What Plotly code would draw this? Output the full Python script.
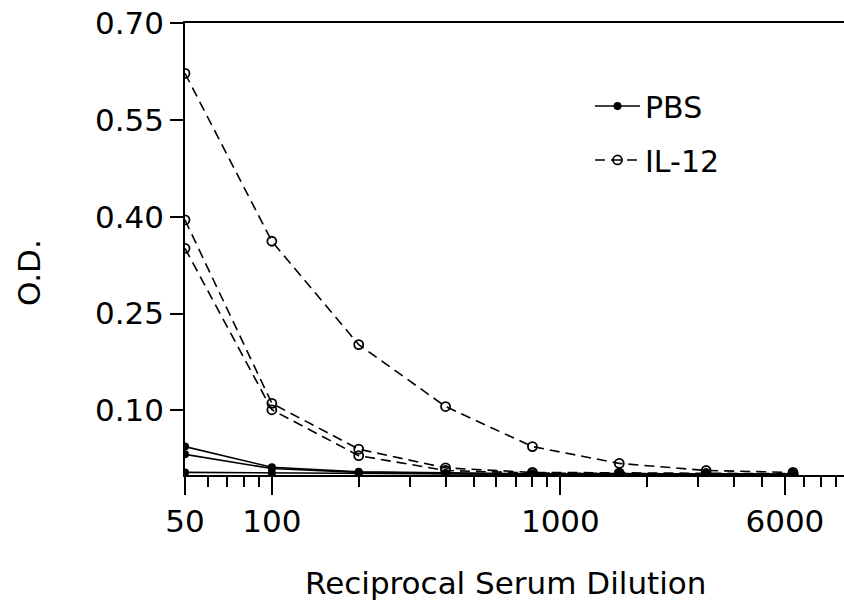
import plotly.graph_objects as go
import math

dilutions = [50, 100, 200, 400, 800, 1600, 3200, 6400]

il12_a = [0.622, 0.362, 0.202, 0.106, 0.044, 0.018, 0.007, 0.004]
il12_b = [0.395, 0.111, 0.040, 0.011, 0.004, 0.003, 0.002, 0.002]
il12_c = [0.351, 0.101, 0.030, 0.007, 0.003, 0.002, 0.002, 0.001]

pbs_a = [0.044, 0.012, 0.005, 0.003, 0.002, 0.002, 0.002, 0.001]
pbs_b = [0.032, 0.010, 0.004, 0.002, 0.001, 0.001, 0.001, 0.001]
pbs_c = [0.004, 0.003, 0.002, 0.001, 0.001, 0.001, 0.001, 0.001]

x_labels = [50, 100, 1000, 6000]
x_minor = [60, 70, 80, 90, 200, 300, 400, 500, 600, 700, 800, 900,
           2000, 3000, 4000, 5000, 7000, 8000, 9000]
y_ticks = [0.10, 0.25, 0.40, 0.55, 0.70]

FONT = "DejaVu Sans"
fig = go.Figure()

for i, ys in enumerate([pbs_a, pbs_b, pbs_c]):
    fig.add_trace(go.Scatter(
        x=dilutions, y=ys, mode="lines+markers", name="PBS",
        legendgroup="pbs", showlegend=(i == 0),
        line=dict(color="black", width=1.6),
        marker=dict(symbol="circle", size=8, color="black"),
    ))

for i, ys in enumerate([il12_a, il12_b, il12_c]):
    fig.add_trace(go.Scatter(
        x=dilutions, y=ys, mode="lines+markers", name="IL-12",
        legendgroup="il12", showlegend=(i == 0),
        line=dict(color="black", width=1.6, dash="10px,6px"),
        marker=dict(symbol="circle-open", size=9, color="black",
                    line=dict(width=1.8, color="black")),
    ))

x0 = math.log10(50)
fig.update_xaxes(
    type="log", range=[x0, 3.983],
    showline=True, linecolor="black", linewidth=1.5, mirror=True,
    showgrid=False, zeroline=False,
    tickmode="array", tickvals=x_labels, ticktext=[str(v) for v in x_labels],
    ticks="outside", ticklen=18, tickwidth=1.5, tickcolor="black",
    tickfont=dict(family=FONT, size=31, color="black"),
    minor=dict(tickvals=x_minor, ticks="outside", ticklen=10,
               tickwidth=1.5, tickcolor="black", showgrid=False),
)
fig.update_yaxes(
    range=[0, 0.70],
    showline=True, linecolor="black", linewidth=1.5,
    showgrid=False, zeroline=False,
    tickmode="array", tickvals=y_ticks,
    ticktext=[f"{v:.2f}" for v in y_ticks],
    ticks="outside", ticklen=13, tickwidth=1.5, tickcolor="black",
    tickfont=dict(family=FONT, size=31, color="black"),
)

fig.update_layout(
    width=844, height=607,
    margin=dict(l=185, r=0, t=23, b=132),
    paper_bgcolor="white", plot_bgcolor="white",
    font=dict(family=FONT, color="black"),
    showlegend=True,
    legend=dict(x=0.6146, y=0.874, xanchor="left", yanchor="top",
                bgcolor="rgba(0,0,0,0)", itemwidth=45,
                tracegroupgap=12,
                font=dict(family=FONT, size=30, color="black")),
    annotations=[
        dict(text="Reciprocal Serum Dilution", xref="paper", yref="paper",
             x=0.4856, y=-0.239, showarrow=False,
             font=dict(family=FONT, size=31, color="black"),
             xanchor="center", yanchor="middle"),
        dict(text="O.D.", xref="paper", yref="paper",
             x=-0.2367, y=0.447, showarrow=False, textangle=-90,
             font=dict(family=FONT, size=31, color="black"),
             xanchor="center", yanchor="middle"),
    ],
)

fig.write_html("out.html")
